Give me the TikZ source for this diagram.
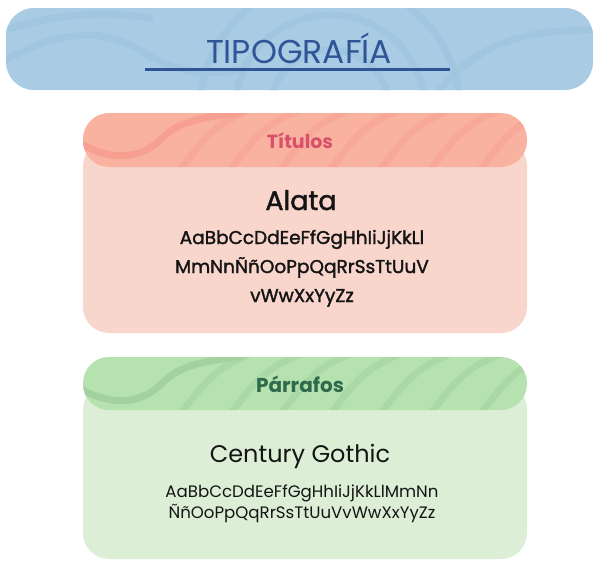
\documentclass[tikz,border=0pt]{standalone}
\usepackage{fontspec}
\setmainfont{Poppins}
\newfontfamily\samplefont{Poppins}[FakeBold=1.6]
\definecolor{bannerblue}{HTML}{A9CCE4}
\definecolor{bannerline}{HTML}{A0C6E0}
\definecolor{titleblue}{HTML}{2F5597}
\definecolor{pinkhead}{HTML}{F9B2A0}
\definecolor{pinkline}{HTML}{F7A092}
\definecolor{pinkbody}{HTML}{F8D6CC}
\definecolor{pinktext}{HTML}{D9506B}
\definecolor{greenhead}{HTML}{B5E2AF}
\definecolor{greenline}{HTML}{A2D29F}
\definecolor{greenbody}{HTML}{DCEFD6}
\definecolor{greentext}{HTML}{2E6A4B}

\begin{document}
\begin{tikzpicture}[x=1pt,y=-1pt,
    card/.style={rounded corners=26pt},
    wave/.style={line width=7pt,line cap=round},
    headtext/.style={anchor=base,font=\bfseries\fontsize{19}{22}\selectfont},
    sample/.style={anchor=base,text=black!92}]
        \useasboundingbox (0,0) rectangle (594,560);

        % banner
        \fill[bannerblue,rounded corners=28pt](6,8) rectangle (593,90);
        \begin{scope}
            \clip[rounded corners=28pt](6,8) rectangle (593,90);
            \foreach \r in {60,95,130}
                \draw[bannerline,wave](330,110) circle (\r);
            \draw[bannerline,wave](6,60) .. controls (60,30) and (100,30) .. (130,45) .. controls (160,60) and (180,80) .. (240,70);
            \draw[bannerline,wave](6,30) .. controls (50,15) and (100,10) .. (150,18);
            \draw[bannerline,wave](440,90) .. controls (480,40) and (530,30) .. (593,30);
        \end{scope}
        \node[anchor=base,text=titleblue,font=\fontsize{33}{36}\selectfont](title) at (299,63) {TIPOGRAFÍA};
        \coordinate (ulA) at (145,69);
        \coordinate (ulB) at (450,69);
        \draw[titleblue,line width=3pt](ulA)--(ulB);

        % titulos
        \fill[pinkbody,card](83,140) rectangle (527,333);
        \fill[pinkhead,card](83,113) rectangle (527,167);
        \begin{scope}
            \clip[card](83,113) rectangle (527,167);
            \draw[pinkline,wave](83,145) .. controls (110,160) and (140,160) .. (160,140) .. controls (175,125) and (190,118) .. (240,113);
            \foreach \x in {180,230,280,330,380,430,480}
                \draw[pinkline,wave,opacity=0.5](\x,170) .. controls (\x+20,145) and (\x+30,125) .. (\x+70,110);
        \end{scope}
        \node[headtext,text=pinktext](titulos) at (300,148) {Títulos};
        \node[sample,font=\samplefont\fontsize{27}{30}\selectfont](alata) at (301,210) {Alata};
        \node[sample,font=\samplefont\fontsize{18.5}{22}\selectfont](alataA) at (302,244) {AaBbCcDdEeFfGgHhIiJjKkLl};
        \node[sample,font=\samplefont\fontsize{18.5}{22}\selectfont](alataB) at (302,273) {MmNnÑñOoPpQqRrSsTtUuV};
        \node[sample,font=\samplefont\fontsize{18.5}{22}\selectfont](alataC) at (302,302) {vWwXxYyZz};

        % parrafos
        \fill[greenbody,card](83,383) rectangle (527,559);
        \fill[greenhead,card](83,357) rectangle (527,410);
        \begin{scope}
            \clip[card](83,357) rectangle (527,410);
            \draw[greenline,wave](83,390) .. controls (110,405) and (140,405) .. (160,385) .. controls (175,370) and (190,362) .. (240,357);
            \foreach \x in {180,230,280,330,380,430,480}
                \draw[greenline,wave,opacity=0.5](\x,414) .. controls (\x+20,390) and (\x+30,370) .. (\x+70,354);
        \end{scope}
        \node[headtext,text=greentext,font=\bfseries\fontsize{20}{23}\selectfont](parrafos) at (300,392) {Párrafos};
        \node[sample,font=\fontsize{24}{27}\selectfont](century) at (300,462) {Century Gothic};
        \node[sample,font=\fontsize{16.6}{20}\selectfont](centuryA) at (302,497) {AaBbCcDdEeFfGgHhIiJjKkLlMmNn};
        \node[sample,font=\fontsize{16.6}{20}\selectfont](centuryB) at (302,518) {ÑñOoPpQqRrSsTtUuVvWwXxYyZz};
\end{tikzpicture}
\end{document}
